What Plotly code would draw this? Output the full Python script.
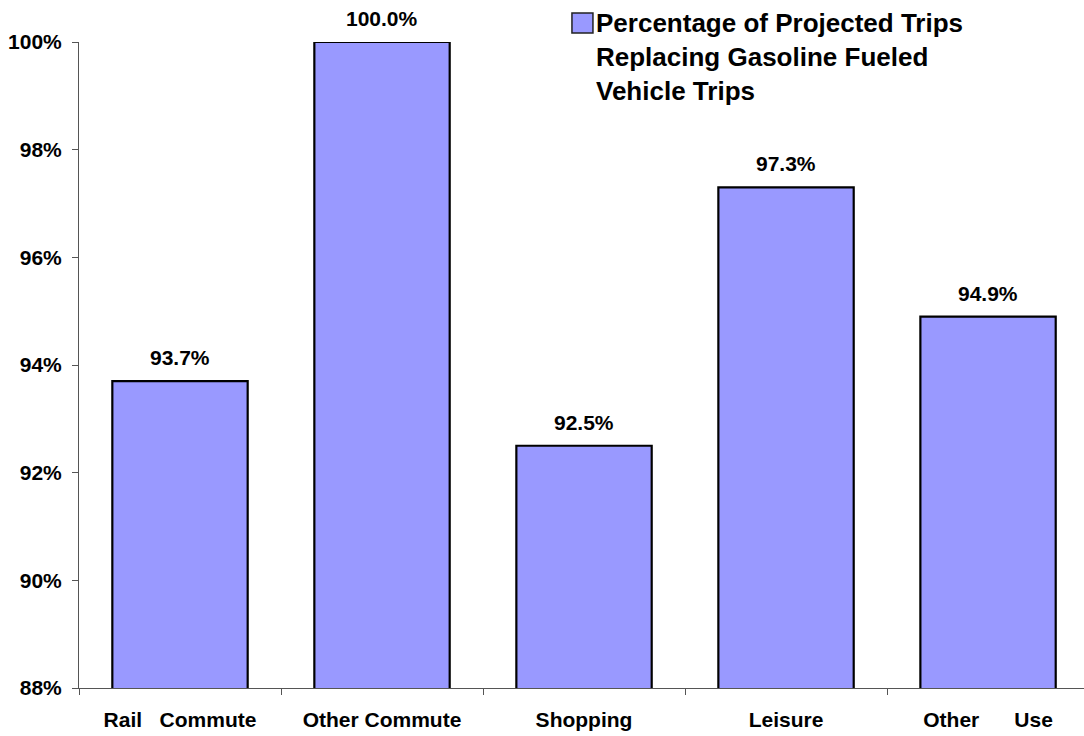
import plotly.graph_objects as go

categories = ["Rail\u00a0\u00a0\u00a0Commute", "Other Commute", "Shopping", "Leisure",
              "Other\u00a0\u00a0\u00a0\u00a0\u00a0\u00a0Use"]
values = [93.7, 100.0, 92.5, 97.3, 94.9]
value_labels = ["93.7%", "100.0%", "92.5%", "97.3%", "94.9%"]
y_ticks = [88, 90, 92, 94, 96, 98, 100]
y_tick_labels = ["88%", "90%", "92%", "94%", "96%", "98%", "100%"]
series_name = "Percentage of Projected Trips<br>Replacing Gasoline Fueled<br>Vehicle Trips"

FONT = "Liberation Sans, Arial, sans-serif"
BAR_FILL = "#9999FF"

fig = go.Figure()
fig.add_trace(go.Bar(
    x=categories,
    y=values,
    base=0,
    width=0.67,
    marker=dict(color=BAR_FILL, line=dict(color="black", width=2.2)),
    name=series_name,
    showlegend=False,
    cliponaxis=False,
))

# value labels above each bar
for cat, v, lab in zip(categories, values, value_labels):
    fig.add_annotation(x=cat, y=v, text=lab, showarrow=False,
                       xanchor="center", yanchor="bottom", yshift=10,
                       font=dict(family=FONT, size=21, color="black", weight="bold"))

# legend: swatch + text
fig.add_shape(type="rect", xref="paper", yref="paper",
              x0=0.4905, x1=0.5114, y0=1.0139, y1=1.0449,
              fillcolor=BAR_FILL, line=dict(color="#222222", width=1.5))
fig.add_annotation(xref="paper", yref="paper", x=0.5124, y=1.0555,
                   xanchor="left", yanchor="top", align="left",
                   text=series_name, showarrow=False,
                   font=dict(family=FONT, size=26, color="black", weight="bold"))

fig.update_layout(
    width=1084, height=736,
    margin=dict(l=79, r=0, t=42, b=48),
    paper_bgcolor="white", plot_bgcolor="white",
    font=dict(family=FONT, color="black"),
)
fig.update_xaxes(
    type="category",
    range=[-0.5, 4.475],
    tickson="boundaries",
    ticks="outside", ticklen=6, tickcolor="#555555", tickwidth=1,
    showline=True, linecolor="#555555", linewidth=1,
    showgrid=False, zeroline=False,
    tickfont=dict(family=FONT, size=21, color="black", weight="bold"),
    ticklabelstandoff=13,
)
fig.update_yaxes(
    range=[88, 100],
    tickmode="array", tickvals=y_ticks, ticktext=y_tick_labels,
    ticks="outside", ticklen=6, tickcolor="#555555", tickwidth=1,
    showline=True, linecolor="#555555", linewidth=1,
    showgrid=False, zeroline=False,
    tickfont=dict(family=FONT, size=21, color="black", weight="bold"),
    ticklabelstandoff=6,
)

fig.write_html("out.html")
